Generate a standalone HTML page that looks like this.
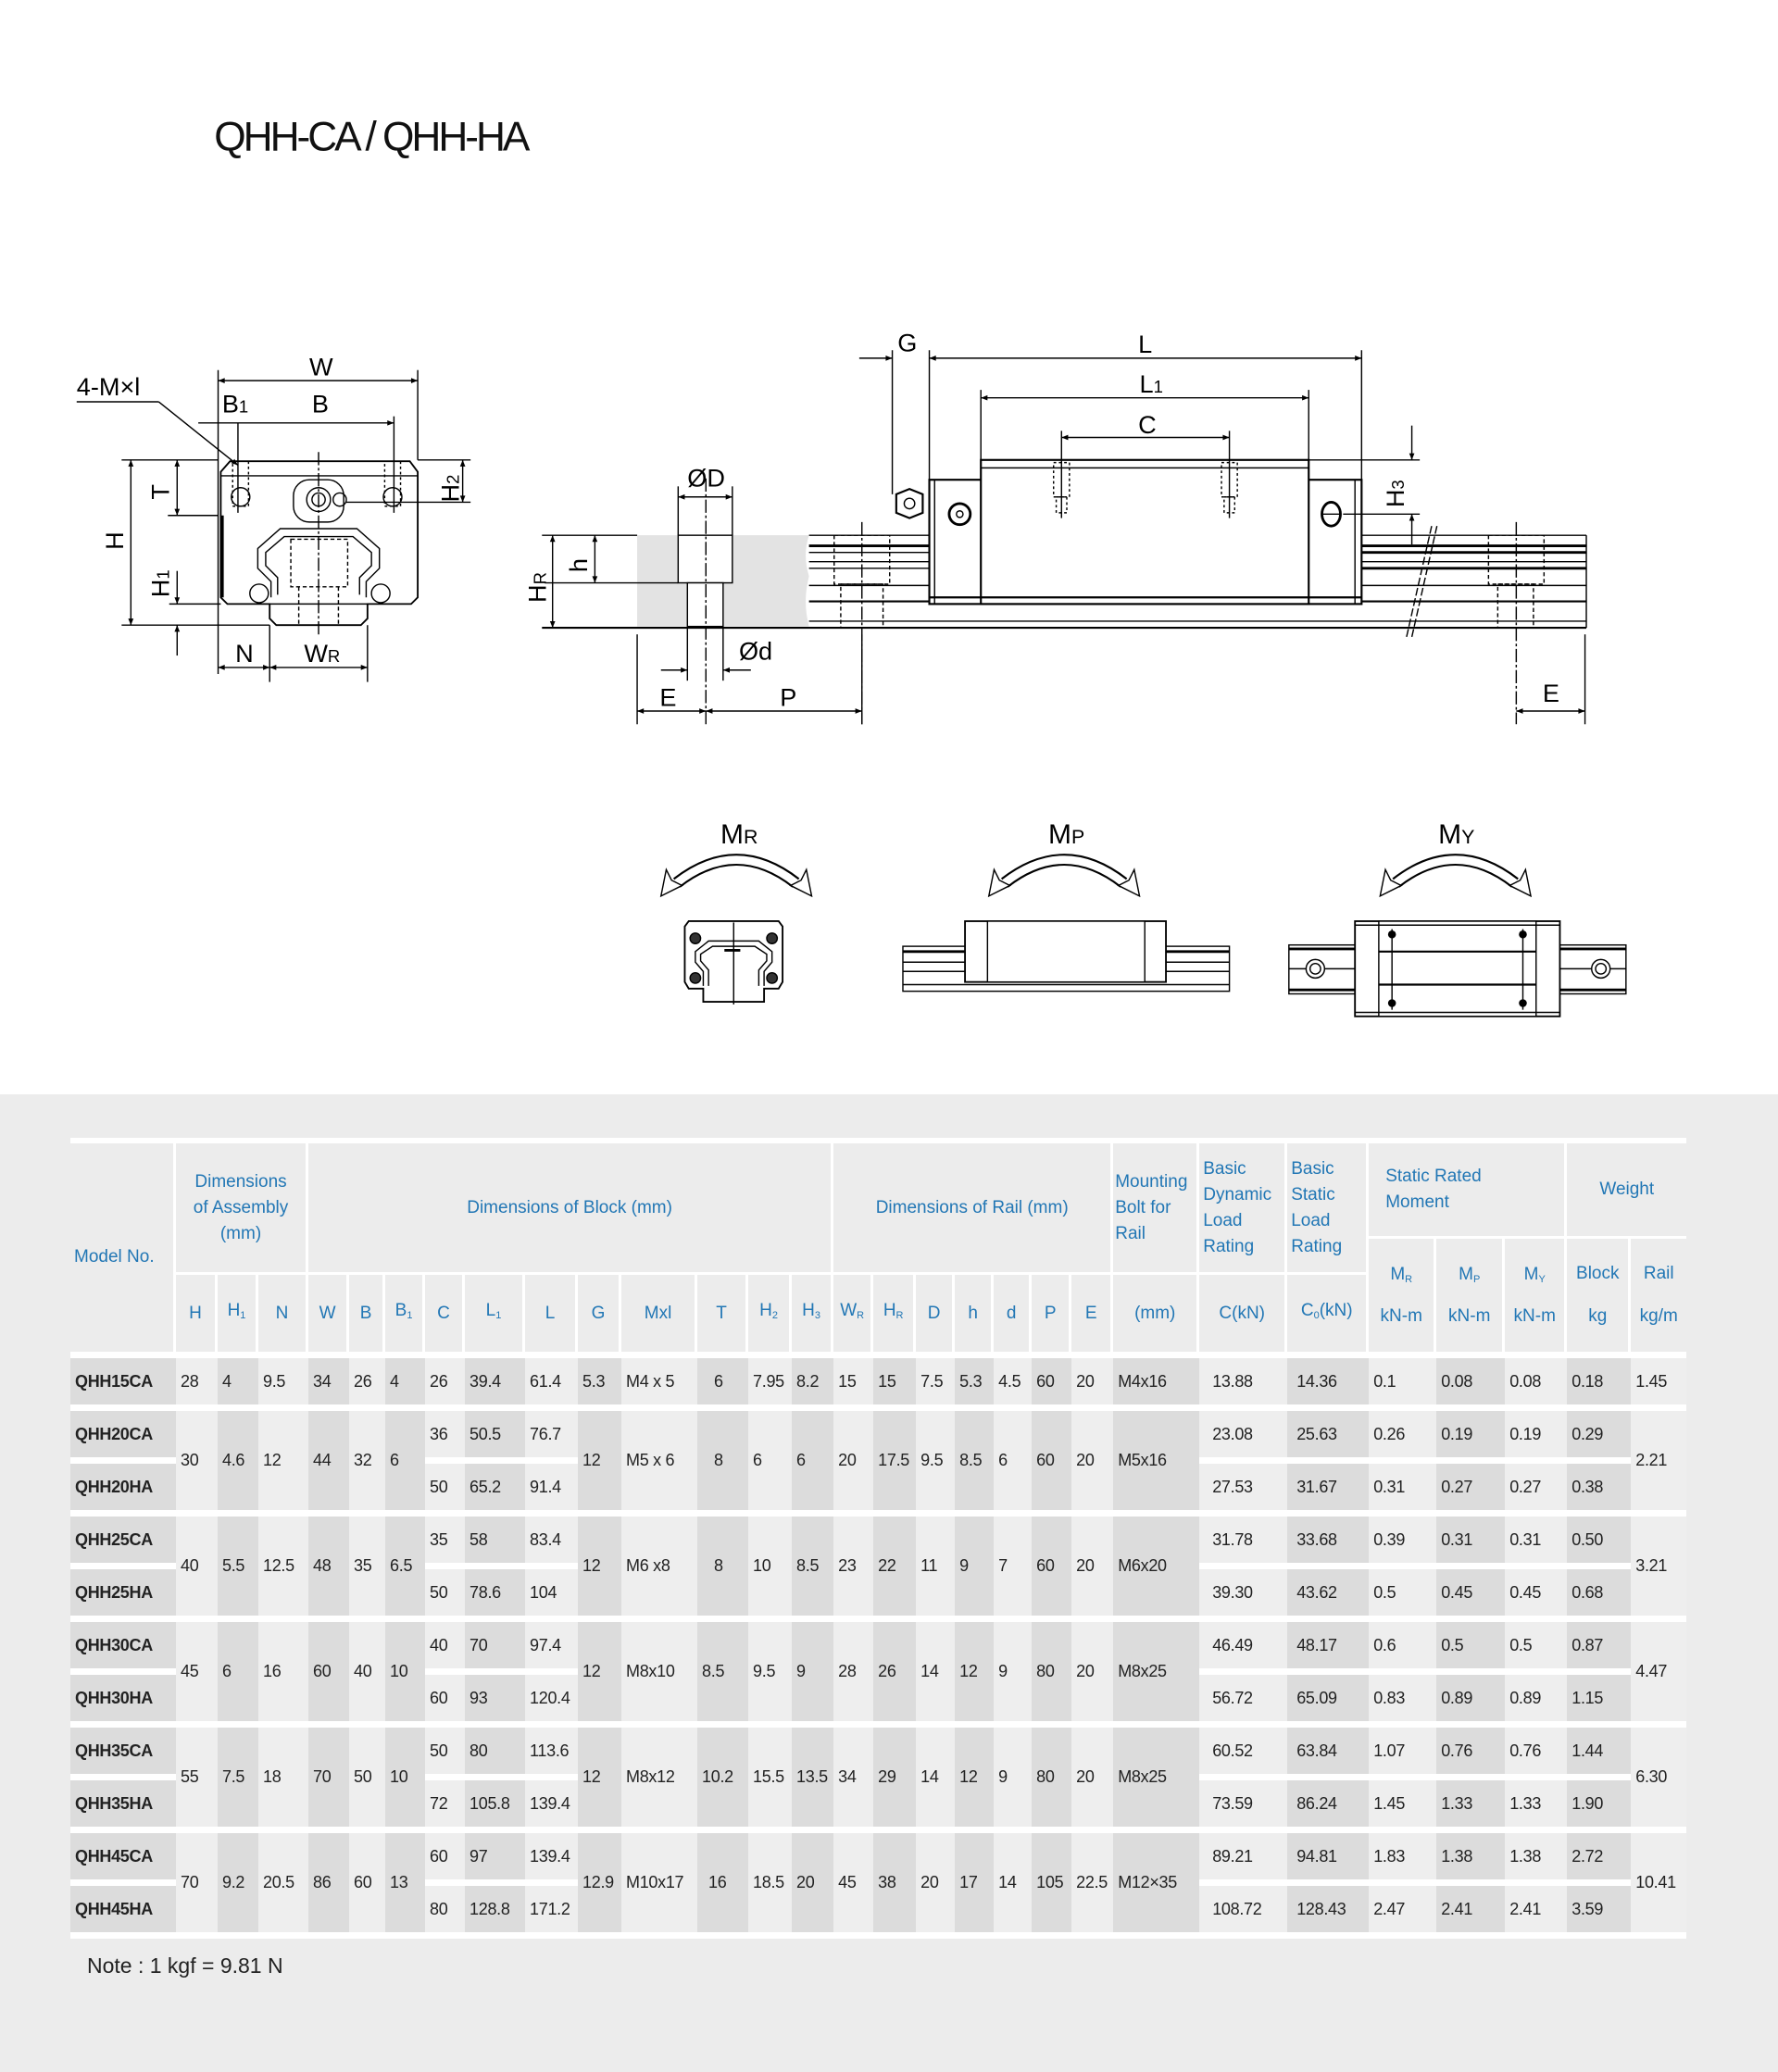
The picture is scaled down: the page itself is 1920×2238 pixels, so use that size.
<!DOCTYPE html>
<html><head><meta charset="utf-8"><style>
*{margin:0;padding:0;box-sizing:border-box}
body{width:1920px;height:2238px;background:#fff;position:relative;overflow:hidden;font-family:"Liberation Sans",sans-serif}
#gray{position:absolute;left:0;top:1182px;width:1920px;height:1056px;background:#ececec}
#topline{position:absolute;left:76px;top:1229px;width:1745px;height:6px;background:#fff}
table{position:absolute;left:76px;top:1235px;width:1745px;border-collapse:separate;border-spacing:0;table-layout:fixed;font-size:18px;color:#222}
th{background:#ececec;color:#2277b5;font-weight:normal;border-right:3px solid #fff;border-bottom:3px solid #fff;font-size:19px;line-height:28px;vertical-align:middle;padding:0 2px}
th.l{text-align:left;padding-left:4px}
td{padding:0 0 0 5px;vertical-align:middle;text-align:left;white-space:nowrap;letter-spacing:-0.3px}
td.m{font-weight:bold;padding-left:5px}
tr.s td,tr.b td,td.rs{border-bottom:7px solid #fff}
tr.a td.sep{border-bottom:7px solid #fff}
tr.a,tr.b,tr.s{height:57px}
sub{font-size:11px;vertical-align:-3px}
th.r3{border-bottom:7px solid #fff}
.sh{background:#dcdcdc}
.un{background:#eeeeee}
#note{position:absolute;left:94px;top:2110px;font-size:23px;color:#222}
</style></head><body>
<svg width="1920" height="1182" viewBox="0 0 1345 828" style="position:absolute;left:0;top:0" font-family="Liberation Sans, sans-serif">
<defs>
<marker id="ar" viewBox="0 0 10 10" refX="10" refY="5" markerWidth="7" markerHeight="5" orient="auto-start-reverse"><path d="M0,1 L10,5 L0,9 Z" fill="#000"/></marker>
</defs>
<text x="162" y="114" font-size="31" textLength="239" fill="#111">QHH-CA / QHH-HA</text>
<g stroke="#000" fill="none" stroke-width="1">
<line x1="165" y1="280" x2="165" y2="510"/>
<line x1="316" y1="280" x2="316" y2="348"/>
<line x1="165" y1="288" x2="316" y2="288" marker-start="url(#ar)" marker-end="url(#ar)"/>
<line x1="150" y1="320" x2="298" y2="320" marker-end="url(#ar)"/>
<line x1="180" y1="320" x2="180" y2="388"/>
<line x1="298" y1="315" x2="298" y2="388"/>
<line x1="58" y1="304" x2="120" y2="304"/>
<line x1="120" y1="304" x2="180" y2="352" marker-end="url(#ar)"/>
<path d="M167,357 L174,349 L310,349 L316,357 L316,452 L311,457 L278,457 L278,468 L273,473 L209,473 L204,468 L204,457 L172,457 L167,452 Z" stroke-width="1.3"/>
<line x1="167" y1="360" x2="316" y2="360"/>
<line x1="204" y1="457" x2="278" y2="457"/>
<line x1="168" y1="390" x2="168" y2="452" stroke-width="2.5"/>
<path d="M205,452 L205,440 L195,430 L195,415 L212,400 L270,400 L287,415 L287,430 L277,440 L277,452"/>
<path d="M210,450 L210,437 L201,428 L201,418 L215,406 L267,406 L281,418 L281,428 L272,437 L272,450"/>
<rect x="220" y="408" width="43" height="36" stroke-dasharray="3,2"/>
<line x1="226" y1="444" x2="226" y2="473" stroke-dasharray="3,2"/><line x1="256" y1="444" x2="256" y2="473" stroke-dasharray="3,2"/>
<rect x="222" y="363" width="38" height="32" rx="12"/>
<circle cx="241" cy="378" r="9"/><circle cx="241" cy="378" r="5"/><circle cx="257" cy="378" r="5"/>
<circle cx="182" cy="376" r="7"/><circle cx="297" cy="376" r="7"/><circle cx="196" cy="449" r="7"/><circle cx="288" cy="449" r="7"/>
<rect x="176" y="349" width="12" height="34" stroke-dasharray="2,2"/><rect x="291" y="349" width="12" height="34" stroke-dasharray="2,2"/>
<line x1="241" y1="342" x2="241" y2="480" stroke-dasharray="10,2,2,2"/>
<line x1="92" y1="348" x2="165" y2="348"/>
<line x1="92" y1="473" x2="204" y2="473"/>
<line x1="99" y1="348" x2="99" y2="473" marker-start="url(#ar)" marker-end="url(#ar)"/>
<line x1="127" y1="390" x2="165" y2="390"/>
<line x1="134" y1="348" x2="134" y2="390" marker-start="url(#ar)" marker-end="url(#ar)"/>
<line x1="128" y1="457" x2="167" y2="457"/>
<line x1="134" y1="432" x2="134" y2="457" marker-end="url(#ar)"/>
<line x1="134" y1="473" x2="134" y2="496" marker-start="url(#ar)"/>
<line x1="316" y1="348" x2="356" y2="348"/>
<line x1="262" y1="380" x2="356" y2="380"/>
<line x1="350" y1="348" x2="350" y2="380" marker-start="url(#ar)" marker-end="url(#ar)"/>
<line x1="204" y1="473" x2="204" y2="516"/><line x1="278" y1="473" x2="278" y2="516"/>
<line x1="165" y1="505" x2="204" y2="505" marker-start="url(#ar)" marker-end="url(#ar)"/>
<line x1="204" y1="505" x2="278" y2="505" marker-start="url(#ar)" marker-end="url(#ar)"/>
</g>
<g font-size="19" fill="#000">
<text x="234" y="284">W</text><text x="236" y="312">B</text><text x="168" y="312">B<tspan font-size="13">1</tspan></text>
<text x="58" y="299">4-M×l</text>
<text x="178" y="501">N</text><text x="230" y="501">W<tspan font-size="13">R</tspan></text>
<text transform="translate(93,416) rotate(-90)">H</text>
<text transform="translate(128,378) rotate(-90)">T</text>
<text transform="translate(128,452) rotate(-90)">H<tspan font-size="13">1</tspan></text>
<text transform="translate(347,380) rotate(-90)">H<tspan font-size="13">2</tspan></text>
</g>
<path d="M482,405 L612,405 Q607,420 612,436 Q607,455 612,474 L482,474 Z" fill="#e3e3e3"/>
<g stroke="#000" fill="none" stroke-width="1">
<rect x="513" y="405" width="41" height="36" fill="#fff"/>
<rect x="520" y="441" width="27" height="33" fill="#fff"/>
<line x1="534" y1="362" x2="534" y2="548" stroke-dasharray="10,2,2,2"/>
<line x1="612" y1="405" x2="703" y2="405"/><line x1="1030" y1="405" x2="1200" y2="405"/>
<line x1="612" y1="413" x2="703" y2="413" stroke-width="2"/><line x1="1030" y1="413" x2="1200" y2="413" stroke-width="2"/>
<line x1="612" y1="418" x2="703" y2="418"/><line x1="1030" y1="418" x2="1200" y2="418" stroke-width="2"/>
<line x1="612" y1="425" x2="703" y2="425"/><line x1="1030" y1="425" x2="1200" y2="425"/>
<line x1="612" y1="430" x2="703" y2="430"/><line x1="1030" y1="430" x2="1200" y2="430" stroke-width="2"/>
<line x1="612" y1="443" x2="703" y2="443"/><line x1="1030" y1="443" x2="1200" y2="443"/>
<line x1="612" y1="455" x2="1200" y2="455" stroke-width="1.5"/>
<line x1="612" y1="470" x2="1200" y2="470"/>
<line x1="410" y1="475" x2="1200" y2="475" stroke-width="1.5"/>
<line x1="1200" y1="405" x2="1200" y2="475"/>
<line x1="410" y1="405" x2="482" y2="405"/>
<rect x="631" y="405" width="42" height="37" stroke-dasharray="3,2"/><rect x="636" y="442" width="32" height="33" stroke-dasharray="3,2"/>
<line x1="652" y1="395" x2="652" y2="548" stroke-dasharray="10,2,2,2"/>
<rect x="1126" y="405" width="42" height="37" stroke-dasharray="3,2"/><rect x="1133" y="442" width="27" height="33" stroke-dasharray="3,2"/>
<line x1="1147" y1="395" x2="1147" y2="548" stroke-dasharray="10,2,2,2"/>
<rect x="703" y="363" width="327" height="94" fill="#fff" stroke-width="1.5"/>
<rect x="742" y="348" width="248" height="109" fill="#fff" stroke-width="1.5"/>
<line x1="742" y1="354" x2="990" y2="354"/><line x1="703" y1="452" x2="1030" y2="452" stroke-width="1.5"/>
<line x1="707" y1="363" x2="707" y2="457"/><line x1="1025" y1="363" x2="1025" y2="457"/>
<circle cx="726" cy="389" r="8" stroke-width="2"/><circle cx="726" cy="389" r="2.5"/>
<ellipse cx="1007" cy="389" rx="7" ry="9" stroke-width="2"/><line x1="1000" y1="389" x2="1014" y2="389"/>
<rect x="797" y="350" width="12" height="26" stroke-dasharray="2,2"/><rect x="799" y="376" width="8" height="12" stroke-dasharray="2,2"/>
<rect x="924" y="350" width="12" height="26" stroke-dasharray="2,2"/><rect x="926" y="376" width="8" height="12" stroke-dasharray="2,2"/>
<path d="M678,374 L688,370 L698,374 L698,388 L688,392 L678,388 Z" stroke-width="1.5"/><circle cx="688" cy="381" r="4"/>
<line x1="675" y1="265" x2="675" y2="374"/><line x1="703" y1="265" x2="703" y2="363"/>
<line x1="1030" y1="265" x2="1030" y2="363"/>
<line x1="650" y1="271" x2="675" y2="271" marker-end="url(#ar)"/>
<line x1="703" y1="271" x2="1030" y2="271" marker-start="url(#ar)" marker-end="url(#ar)"/>
<line x1="742" y1="295" x2="742" y2="348"/><line x1="990" y1="295" x2="990" y2="348"/>
<line x1="742" y1="301" x2="990" y2="301" marker-start="url(#ar)" marker-end="url(#ar)"/>
<line x1="803" y1="326" x2="803" y2="392"/><line x1="930" y1="326" x2="930" y2="392"/>
<line x1="803" y1="331" x2="930" y2="331" marker-start="url(#ar)" marker-end="url(#ar)"/>
<line x1="990" y1="348" x2="1074" y2="348"/><line x1="1016" y1="389" x2="1074" y2="389"/>
<line x1="1068" y1="322" x2="1068" y2="348" marker-end="url(#ar)"/>
<line x1="1068" y1="412" x2="1068" y2="389" marker-end="url(#ar)"/>
<line x1="1083" y1="398" x2="1064" y2="482" stroke-dasharray="6,2"/><line x1="1087" y1="398" x2="1068" y2="482" stroke-dasharray="6,2"/>
<line x1="513" y1="368" x2="513" y2="405"/><line x1="554" y1="368" x2="554" y2="405"/>
<line x1="513" y1="376" x2="554" y2="376" marker-start="url(#ar)" marker-end="url(#ar)"/>
<line x1="412" y1="441" x2="513" y2="441"/>
<line x1="450" y1="405" x2="450" y2="441" marker-start="url(#ar)" marker-end="url(#ar)"/>
<line x1="418" y1="405" x2="418" y2="475" marker-start="url(#ar)" marker-end="url(#ar)"/>
<line x1="520" y1="475" x2="520" y2="515"/><line x1="547" y1="475" x2="547" y2="515"/>
<line x1="500" y1="507" x2="520" y2="507" marker-end="url(#ar)"/><line x1="568" y1="507" x2="547" y2="507" marker-end="url(#ar)"/>
<line x1="482" y1="480" x2="482" y2="548"/><line x1="652" y1="480" x2="652" y2="548"/>
<line x1="482" y1="538" x2="534" y2="538" marker-start="url(#ar)" marker-end="url(#ar)"/>
<line x1="534" y1="538" x2="652" y2="538" marker-start="url(#ar)" marker-end="url(#ar)"/>
<line x1="1199" y1="480" x2="1199" y2="548"/>
<line x1="1147" y1="538" x2="1199" y2="538" marker-start="url(#ar)" marker-end="url(#ar)"/>
</g>
<g font-size="19" fill="#000">
<text x="679" y="266">G</text><text x="861" y="267">L</text><text x="862" y="297">L<tspan font-size="13">1</tspan></text>
<text x="861" y="328">C</text><text x="520" y="368">ØD</text><text x="559" y="499">Ød</text>
<text x="499" y="534">E</text><text x="590" y="534">P</text><text x="1167" y="531">E</text>
<text transform="translate(444,433) rotate(-90)">h</text>
<text transform="translate(413,456) rotate(-90)">H<tspan font-size="13">R</tspan></text>
<text transform="translate(1062,384) rotate(-90)">H<tspan font-size="13">3</tspan></text>
</g>
<g font-size="21" fill="#000">
<text x="545" y="638">M<tspan font-size="15">R</tspan></text>
<text x="793" y="638">M<tspan font-size="15">P</tspan></text>
<text x="1088" y="638">M<tspan font-size="15">Y</tspan></text>
</g>
<g id="arc">
<path d="M512,668 Q557,633 602,668" stroke="#000" stroke-width="9" fill="none"/>
<path d="M512,668 Q557,633 602,668" stroke="#fff" stroke-width="6" fill="none"/>
<path d="M500,678 L504,658 L508,666 L516,670 Z" fill="#fff" stroke="#000"/>
<path d="M614,678 L610,658 L606,666 L598,670 Z" fill="#fff" stroke="#000"/>
</g>
<use href="#arc" transform="translate(248,0)"/>
<use href="#arc" transform="translate(544,0)"/>
<g stroke="#000" fill="#fff" stroke-width="1">
<path d="M518,701 L521,697 L589,697 L592,701 L592,743 L589,748 L578,748 L578,758 L532,758 L532,748 L521,748 L518,743 Z" stroke-width="1.3"/>
<path d="M532,746 L532,735 L526,728 L526,720 L536,712 L574,712 L584,720 L584,728 L578,735 L578,746" fill="none"/>
<path d="M536,746 L536,734 L530,727 L530,722 L539,716 L571,716 L580,722 L580,727 L574,734 L574,746" fill="none"/>
<circle cx="526" cy="710" r="4" fill="#333"/><circle cx="584" cy="710" r="4" fill="#333"/>
<circle cx="526" cy="740" r="4" fill="#333"/><circle cx="584" cy="740" r="4" fill="#333"/>
<line x1="555" y1="698" x2="555" y2="760"/><line x1="548" y1="719" x2="560" y2="719" stroke-width="2"/>
<rect x="683" y="716" width="247" height="34"/>
<line x1="683" y1="720" x2="930" y2="720" stroke-width="2"/><line x1="683" y1="728" x2="930" y2="728"/><line x1="683" y1="735" x2="930" y2="735"/><line x1="683" y1="745" x2="930" y2="745"/>
<rect x="730" y="697" width="152" height="46" stroke-width="1.3"/>
<rect x="747" y="697" width="119" height="46"/>
<rect x="975" y="715" width="255" height="37"/>
<line x1="975" y1="718" x2="1230" y2="718" stroke-width="2"/><line x1="975" y1="749" x2="1230" y2="749" stroke-width="2"/>
<line x1="975" y1="733" x2="1230" y2="733"/>
<circle cx="995" cy="733" r="7"/><circle cx="995" cy="733" r="4"/>
<circle cx="1211" cy="733" r="7"/><circle cx="1211" cy="733" r="4"/>
<rect x="1025" y="697" width="155" height="72" stroke-width="1.3"/>
<rect x="1043" y="697" width="119" height="72"/>
<line x1="1025" y1="700" x2="1180" y2="700"/><line x1="1025" y1="766" x2="1180" y2="766"/>
<line x1="1043" y1="720" x2="1162" y2="720" stroke-width="1.5"/><line x1="1043" y1="745" x2="1162" y2="745" stroke-width="1.5"/>
<line x1="1053" y1="703" x2="1053" y2="764"/><line x1="1152" y1="703" x2="1152" y2="764"/>
</g>
<g fill="#000"><circle cx="1053" cy="707" r="3"/><circle cx="1152" cy="707" r="3"/><circle cx="1053" cy="759" r="3"/><circle cx="1152" cy="759" r="3"/></g>
</svg>
<div id="gray"></div>
<div id="topline"></div>
<table>
<colgroup>
<col class="sh" style="width:114px"><col class="un" style="width:45px"><col class="sh" style="width:44px"><col class="un" style="width:54px">
<col class="sh" style="width:44px"><col class="un" style="width:39px"><col class="sh" style="width:43px"><col class="un" style="width:43px">
<col class="sh" style="width:65px"><col class="un" style="width:57px"><col class="sh" style="width:47px"><col class="un" style="width:82px">
<col class="sh" style="width:55px"><col class="un" style="width:47px"><col class="sh" style="width:45px"><col class="un" style="width:43px">
<col class="sh" style="width:46px"><col class="un" style="width:42px"><col class="sh" style="width:42px"><col class="un" style="width:41px">
<col class="sh" style="width:43px"><col class="un" style="width:45px"><col class="sh" style="width:93px"><col class="un" style="width:95px">
<col class="sh" style="width:88px"><col class="un" style="width:73px"><col class="sh" style="width:74px"><col class="un" style="width:67px">
<col class="sh" style="width:69px"><col class="un" style="width:60px">
</colgroup>
<tr style="height:103px">
<th rowspan="3" class="l r3" style="padding-top:20px">Model No.</th>
<th colspan="3" rowspan="2">Dimensions<br>of Assembly<br>(mm)</th>
<th colspan="11" rowspan="2">Dimensions of Block (mm)</th>
<th colspan="7" rowspan="2">Dimensions of Rail (mm)</th>
<th rowspan="2" class="l" style="padding-left:2px">Mounting<br>Bolt for<br>Rail</th>
<th rowspan="2" class="l">Basic<br>Dynamic<br>Load<br>Rating</th>
<th rowspan="2" class="l">Basic<br>Static<br>Load<br>Rating</th>
<th colspan="3" class="l" style="padding-left:18px">Static Rated<br>Moment</th>
<th colspan="2" style="border-right:0">Weight</th>
</tr>
<tr style="height:39px">
<th rowspan="2" class="r3" style="line-height:40px">M<sub>R</sub><br>kN-m</th>
<th rowspan="2" class="r3" style="line-height:40px">M<sub>P</sub><br>kN-m</th>
<th rowspan="2" class="r3" style="line-height:40px">M<sub>Y</sub><br>kN-m</th>
<th rowspan="2" class="r3" style="line-height:46px">Block<br>kg</th>
<th rowspan="2" class="r3" style="line-height:46px;border-right:0">Rail<br>kg/m</th>
</tr>
<tr style="height:90px">
<th class="r3">H</th><th class="r3">H<sub>1</sub></th><th class="r3">N</th><th class="r3">W</th><th class="r3">B</th><th class="r3">B<sub>1</sub></th><th class="r3">C</th><th class="r3">L<sub>1</sub></th><th class="r3">L</th><th class="r3">G</th><th class="r3">Mxl</th><th class="r3">T</th><th class="r3">H<sub>2</sub></th><th class="r3">H<sub>3</sub></th><th class="r3">W<sub>R</sub></th><th class="r3">H<sub>R</sub></th><th class="r3">D</th><th class="r3">h</th><th class="r3">d</th><th class="r3">P</th><th class="r3">E</th><th class="r3">(mm)</th><th class="r3">C(kN)</th><th class="r3">C<sub>0</sub>(kN)</th>
</tr>
<tr class="s"><td class="m">QHH15CA</td><td>28</td><td>4</td><td>9.5</td><td>34</td><td>26</td><td>4</td><td>26</td><td>39.4</td><td>61.4</td><td>5.3</td><td>M4 x 5</td><td style="padding-left:18px">6</td><td>7.95</td><td>8.2</td><td>15</td><td>15</td><td>7.5</td><td>5.3</td><td>4.5</td><td>60</td><td>20</td><td>M4x16</td><td style="padding-left:14px">13.88</td><td style="padding-left:10px">14.36</td><td>0.1</td><td>0.08</td><td>0.08</td><td>0.18</td><td>1.45</td></tr>

<tr class="a"><td class="m sep">QHH20CA</td><td rowspan="2" class="rs">30</td><td rowspan="2" class="rs">4.6</td><td rowspan="2" class="rs">12</td><td rowspan="2" class="rs">44</td><td rowspan="2" class="rs">32</td><td rowspan="2" class="rs">6</td><td class="sep">36</td><td class="sep">50.5</td><td class="sep">76.7</td><td rowspan="2" class="rs">12</td><td rowspan="2" class="rs">M5 x 6</td><td rowspan="2" class="rs" style="padding-left:18px">8</td><td rowspan="2" class="rs">6</td><td rowspan="2" class="rs">6</td><td rowspan="2" class="rs">20</td><td rowspan="2" class="rs">17.5</td><td rowspan="2" class="rs">9.5</td><td rowspan="2" class="rs">8.5</td><td rowspan="2" class="rs">6</td><td rowspan="2" class="rs">60</td><td rowspan="2" class="rs">20</td><td rowspan="2" class="rs">M5x16</td><td class="sep" style="padding-left:14px">23.08</td><td class="sep" style="padding-left:10px">25.63</td><td class="sep">0.26</td><td class="sep">0.19</td><td class="sep">0.19</td><td class="sep">0.29</td><td rowspan="2" class="rs">2.21</td></tr>
<tr class="b"><td class="m">QHH20HA</td><td>50</td><td>65.2</td><td>91.4</td><td style="padding-left:14px">27.53</td><td style="padding-left:10px">31.67</td><td>0.31</td><td>0.27</td><td>0.27</td><td>0.38</td></tr>

<tr class="a"><td class="m sep">QHH25CA</td><td rowspan="2" class="rs">40</td><td rowspan="2" class="rs">5.5</td><td rowspan="2" class="rs">12.5</td><td rowspan="2" class="rs">48</td><td rowspan="2" class="rs">35</td><td rowspan="2" class="rs">6.5</td><td class="sep">35</td><td class="sep">58</td><td class="sep">83.4</td><td rowspan="2" class="rs">12</td><td rowspan="2" class="rs">M6 x8</td><td rowspan="2" class="rs" style="padding-left:18px">8</td><td rowspan="2" class="rs">10</td><td rowspan="2" class="rs">8.5</td><td rowspan="2" class="rs">23</td><td rowspan="2" class="rs">22</td><td rowspan="2" class="rs">11</td><td rowspan="2" class="rs">9</td><td rowspan="2" class="rs">7</td><td rowspan="2" class="rs">60</td><td rowspan="2" class="rs">20</td><td rowspan="2" class="rs">M6x20</td><td class="sep" style="padding-left:14px">31.78</td><td class="sep" style="padding-left:10px">33.68</td><td class="sep">0.39</td><td class="sep">0.31</td><td class="sep">0.31</td><td class="sep">0.50</td><td rowspan="2" class="rs">3.21</td></tr>
<tr class="b"><td class="m">QHH25HA</td><td>50</td><td>78.6</td><td>104</td><td style="padding-left:14px">39.30</td><td style="padding-left:10px">43.62</td><td>0.5</td><td>0.45</td><td>0.45</td><td>0.68</td></tr>

<tr class="a"><td class="m sep">QHH30CA</td><td rowspan="2" class="rs">45</td><td rowspan="2" class="rs">6</td><td rowspan="2" class="rs">16</td><td rowspan="2" class="rs">60</td><td rowspan="2" class="rs">40</td><td rowspan="2" class="rs">10</td><td class="sep">40</td><td class="sep">70</td><td class="sep">97.4</td><td rowspan="2" class="rs">12</td><td rowspan="2" class="rs">M8x10</td><td rowspan="2" class="rs">8.5</td><td rowspan="2" class="rs">9.5</td><td rowspan="2" class="rs">9</td><td rowspan="2" class="rs">28</td><td rowspan="2" class="rs">26</td><td rowspan="2" class="rs">14</td><td rowspan="2" class="rs">12</td><td rowspan="2" class="rs">9</td><td rowspan="2" class="rs">80</td><td rowspan="2" class="rs">20</td><td rowspan="2" class="rs">M8x25</td><td class="sep" style="padding-left:14px">46.49</td><td class="sep" style="padding-left:10px">48.17</td><td class="sep">0.6</td><td class="sep">0.5</td><td class="sep">0.5</td><td class="sep">0.87</td><td rowspan="2" class="rs">4.47</td></tr>
<tr class="b"><td class="m">QHH30HA</td><td>60</td><td>93</td><td>120.4</td><td style="padding-left:14px">56.72</td><td style="padding-left:10px">65.09</td><td>0.83</td><td>0.89</td><td>0.89</td><td>1.15</td></tr>

<tr class="a"><td class="m sep">QHH35CA</td><td rowspan="2" class="rs">55</td><td rowspan="2" class="rs">7.5</td><td rowspan="2" class="rs">18</td><td rowspan="2" class="rs">70</td><td rowspan="2" class="rs">50</td><td rowspan="2" class="rs">10</td><td class="sep">50</td><td class="sep">80</td><td class="sep">113.6</td><td rowspan="2" class="rs">12</td><td rowspan="2" class="rs">M8x12</td><td rowspan="2" class="rs">10.2</td><td rowspan="2" class="rs">15.5</td><td rowspan="2" class="rs">13.5</td><td rowspan="2" class="rs">34</td><td rowspan="2" class="rs">29</td><td rowspan="2" class="rs">14</td><td rowspan="2" class="rs">12</td><td rowspan="2" class="rs">9</td><td rowspan="2" class="rs">80</td><td rowspan="2" class="rs">20</td><td rowspan="2" class="rs">M8x25</td><td class="sep" style="padding-left:14px">60.52</td><td class="sep" style="padding-left:10px">63.84</td><td class="sep">1.07</td><td class="sep">0.76</td><td class="sep">0.76</td><td class="sep">1.44</td><td rowspan="2" class="rs">6.30</td></tr>
<tr class="b"><td class="m">QHH35HA</td><td>72</td><td>105.8</td><td>139.4</td><td style="padding-left:14px">73.59</td><td style="padding-left:10px">86.24</td><td>1.45</td><td>1.33</td><td>1.33</td><td>1.90</td></tr>

<tr class="a"><td class="m sep">QHH45CA</td><td rowspan="2" class="rs">70</td><td rowspan="2" class="rs">9.2</td><td rowspan="2" class="rs">20.5</td><td rowspan="2" class="rs">86</td><td rowspan="2" class="rs">60</td><td rowspan="2" class="rs">13</td><td class="sep">60</td><td class="sep">97</td><td class="sep">139.4</td><td rowspan="2" class="rs">12.9</td><td rowspan="2" class="rs">M10x17</td><td rowspan="2" class="rs" style="padding-left:12px">16</td><td rowspan="2" class="rs">18.5</td><td rowspan="2" class="rs">20</td><td rowspan="2" class="rs">45</td><td rowspan="2" class="rs">38</td><td rowspan="2" class="rs">20</td><td rowspan="2" class="rs">17</td><td rowspan="2" class="rs">14</td><td rowspan="2" class="rs">105</td><td rowspan="2" class="rs">22.5</td><td rowspan="2" class="rs">M12×35</td><td class="sep" style="padding-left:14px">89.21</td><td class="sep" style="padding-left:10px">94.81</td><td class="sep">1.83</td><td class="sep">1.38</td><td class="sep">1.38</td><td class="sep">2.72</td><td rowspan="2" class="rs">10.41</td></tr>
<tr class="b"><td class="m">QHH45HA</td><td>80</td><td>128.8</td><td>171.2</td><td style="padding-left:14px">108.72</td><td style="padding-left:10px">128.43</td><td>2.47</td><td>2.41</td><td>2.41</td><td>3.59</td></tr>
</table>
<div id="note">Note : 1 kgf = 9.81 N</div>
</body></html>
